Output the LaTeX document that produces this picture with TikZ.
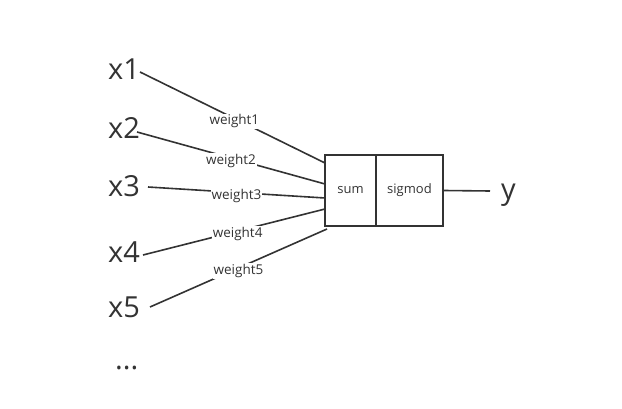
\documentclass[tikz,border=0pt]{standalone}
\usepackage{fontspec}
\setmainfont{Open Sans}
\begin{document}
\begin{tikzpicture}[x=1pt,y=-1pt,
  ink/.style={draw=black!80, line width=1.6pt},
  xlab/.style={anchor=base west, inner sep=0pt, text=black!80, font=\fontsize{29}{32}\selectfont},
  wlab/.style={fill=white, inner sep=1pt, yshift=-3pt, text=black!80, font=\fontsize{13.5}{15}\selectfont},
  cell/.style={ink, minimum height=71pt, inner sep=0pt, text=black!80, font=\fontsize{13}{15}\selectfont}]
\useasboundingbox (0,0) rectangle (622,409);
\node[xlab] (x1) at (108,80) {x1};
\node[xlab] (x2) at (108,139) {x2};
\node[xlab] (x3) at (108,197) {x3};
\node[xlab] (x4) at (108,262) {x4};
\node[xlab] (x5) at (108,317) {x5};
\node[xlab] (dots) at (115,369) {...};
\node[cell, minimum width=51pt] (sum) at (350.5,190.5) {sum};
\node[cell, minimum width=67pt] (sig) at (409.5,190.5) {sigmod};
\node[xlab] (y) at (501,200) {y};
\coordinate (a1) at (140,72);
\coordinate (a2) at (137,132);
\coordinate (a3) at (148,187);
\coordinate (a4) at (143,255);
\coordinate (a5) at (150,307);
\coordinate (b1) at (325,163);
\coordinate (b2) at (325,184);
\coordinate (b3) at (325,198);
\coordinate (b4) at (325,209);
\coordinate (b5) at (327,229);
\coordinate (yend) at (490,191);
\draw[ink] (a1) -- node[wlab, pos=0.51] (w1) {weight1} (b1);
\draw[ink] (a2) -- node[wlab, pos=0.5] (w2) {weight2} (b2);
\draw[ink] (a3) -- node[wlab, pos=0.5] (w3) {weight3} (b3);
\draw[ink] (a4) -- node[wlab, pos=0.52] (w4) {weight4} (b4);
\draw[ink] (a5) -- node[wlab, pos=0.5] (w5) {weight5} (b5);
\draw[ink] (sig.east) -- (yend);
\end{tikzpicture}
\end{document}
